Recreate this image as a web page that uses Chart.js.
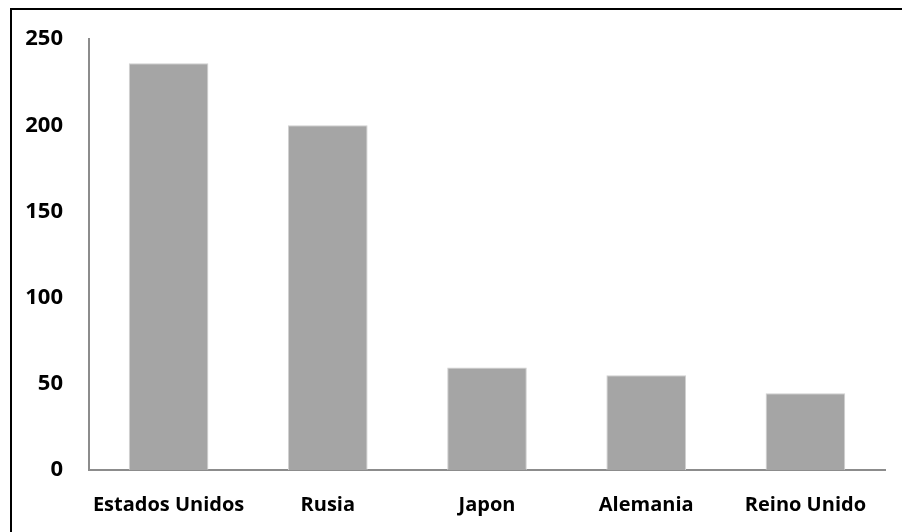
<!DOCTYPE html>
<html>
<head>
<meta charset="utf-8">
<script src="https://cdn.jsdelivr.net/npm/chart.js@4/dist/chart.umd.min.js"></script>
<style>
html,body{margin:0;padding:0;background:#fff;overflow:hidden;}
#wrap{position:relative;width:902px;height:532px;overflow:hidden;}
#frame{position:absolute;left:10px;top:8px;width:1000px;height:1000px;border:2.5px solid #000;box-sizing:border-box;}
canvas{position:absolute;left:0;top:0;}
</style>
</head>
<body>
<div id="wrap">
<div id="frame"></div>
<canvas id="c" width="902" height="532"></canvas>
</div>
<script>
const categories = ["Estados Unidos", "Rusia", "Japon", "Alemania", "Reino Unido"];
const values = [236, 200, 59.5, 55, 44.5];
const yMin = 0, yMax = 250, yStep = 50;

new Chart(document.getElementById('c'), {
  type: 'bar',
  data: {
    labels: categories,
    datasets: [{
      data: values,
      backgroundColor: '#a5a5a5',
      borderColor: '#d0d0d0',
      borderWidth: 1,
      barPercentage: 0.5,
      categoryPercentage: 1.0
    }]
  },
  options: {
    responsive: false,
    animation: false,
    layout: { padding: { left: 0, top: 37, right: 17, bottom: 0 } },
    plugins: { legend: { display: false }, tooltip: { enabled: false } },
    scales: {
      x: {
        grid: { display: false, drawTicks: false },
        border: { display: true, color: '#8c8c8c', width: 2 },
        ticks: { color: '#000', font: { family: "'Open Sans'", weight: 'bold', size: 20 }, padding: 23, maxRotation: 0, autoSkip: false },
        afterFit: s => { s.height = 62; }
      },
      y: {
        min: yMin, max: yMax,
        grid: { display: false, drawTicks: false },
        border: { display: true, color: '#8c8c8c', width: 2 },
        ticks: { stepSize: yStep, color: '#000', font: { family: "'Open Sans'", weight: 'bold', size: 22 }, padding: 26 },
        afterFit: s => { s.width = 89; }
      }
    }
  }
});
</script>
</body>
</html>
